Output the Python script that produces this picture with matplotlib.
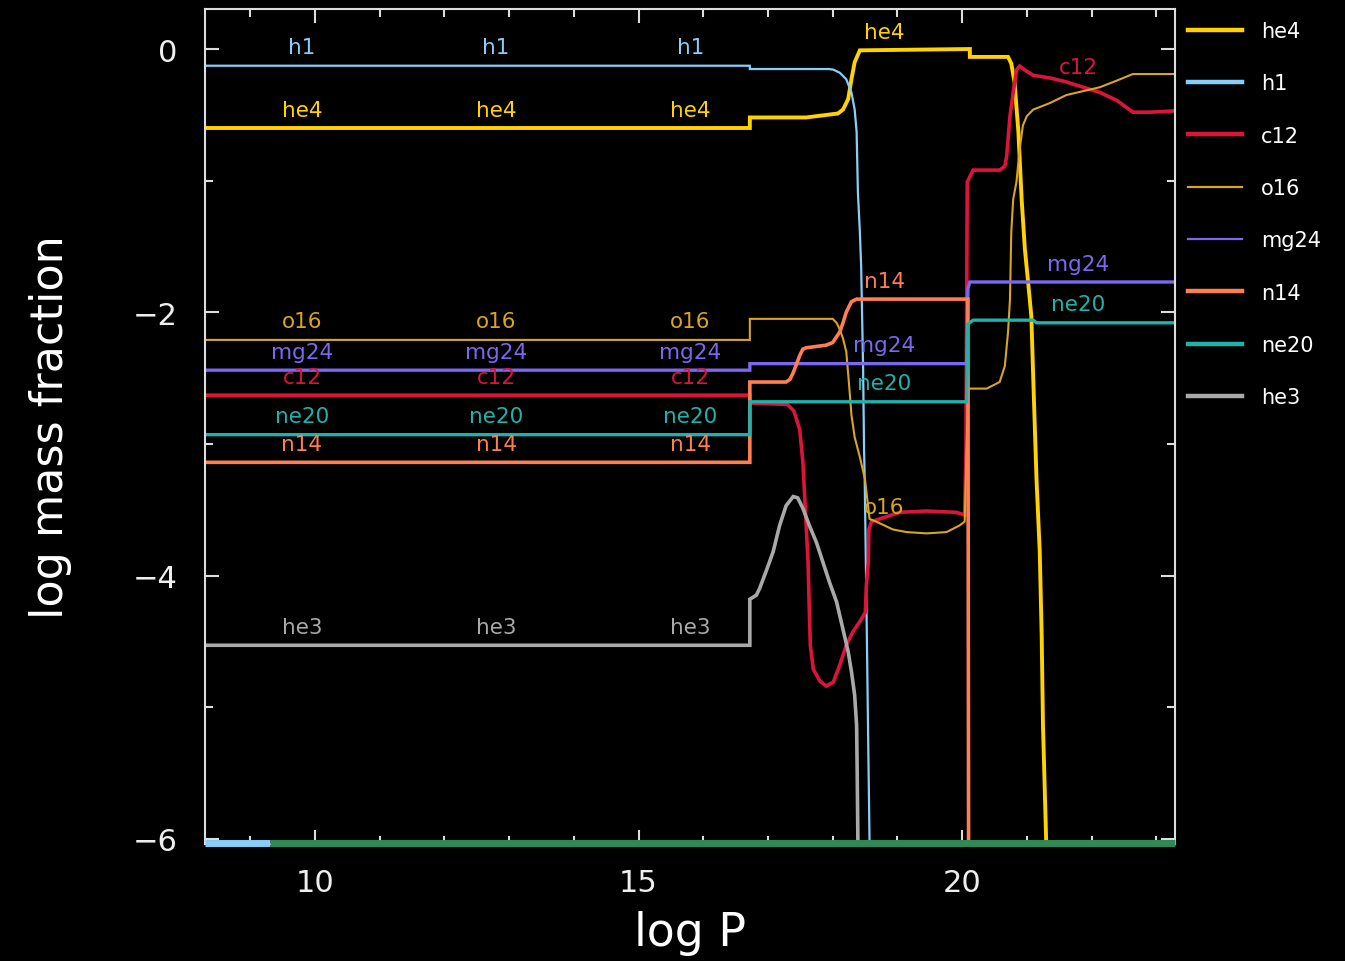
import numpy as np
import matplotlib.pyplot as plt
from matplotlib.ticker import MultipleLocator
from matplotlib.lines import Line2D

# abundance profiles: log mass fraction against log P
# (-6.03 marks values that fall below the plotted range)
he4_x = [8.3, 16.72, 16.72, 17.59, 18.08, 18.16, 18.24, 18.29, 18.34, 18.42, 20.12, 20.12,
         20.71, 20.76, 20.81, 20.87, 20.92, 20.97, 21.02, 21.07, 21.10, 21.15, 21.20, 21.23,
         21.25, 21.30, 23.29]
he4_y = [-0.60, -0.60, -0.52, -0.52, -0.49, -0.46, -0.38, -0.23, -0.10, -0.01, 0.0, -0.06,
         -0.06, -0.11, -0.25, -0.63, -1.14, -1.52, -1.77, -2.03, -2.51, -3.27, -3.82, -4.46,
         -5.14, -6.03, -6.03]

h1_x = [8.3, 16.72, 16.72, 17.95, 18.01, 18.11, 18.21, 18.29, 18.34, 18.37, 18.39, 18.42,
        18.44, 18.47, 18.485, 18.495, 18.52, 18.55, 18.57, 23.29]
h1_y = [-0.127, -0.127, -0.152, -0.152, -0.157, -0.18, -0.23, -0.33, -0.46, -0.63, -1.09,
        -1.39, -1.65, -2.41, -3.04, -3.27, -4.15, -5.29, -6.03, -6.03]

c12_x = [8.3, 16.72, 16.72, 17.30, 17.40, 17.49, 17.54, 17.58, 17.62, 17.64, 17.655, 17.70,
         17.80, 17.90, 18.01, 18.11, 18.21, 18.31, 18.42, 18.505, 18.52, 18.55, 18.56, 18.60,
         19.04, 19.45, 19.91, 20.04, 20.06, 20.08, 20.17, 20.58, 20.66, 20.69, 20.74, 20.79,
         20.84, 20.89, 20.97, 21.10, 21.36, 21.61, 21.87, 22.13, 22.39, 22.64, 22.90, 23.29]
c12_y = [-2.63, -2.63, -2.69, -2.70, -2.75, -2.89, -3.14, -3.52, -3.90, -4.28, -4.53, -4.71,
         -4.80, -4.84, -4.81, -4.68, -4.53, -4.43, -4.35, -4.28, -4.08, -3.90, -3.65, -3.59,
         -3.52, -3.51, -3.52, -3.54, -3.04, -1.01, -0.92, -0.92, -0.89, -0.81, -0.51, -0.33,
         -0.16, -0.13, -0.16, -0.20, -0.22, -0.25, -0.29, -0.33, -0.39, -0.48, -0.48, -0.47]

o16_x = [8.3, 16.72, 16.72, 18.0, 18.06, 18.11, 18.16, 18.21, 18.25, 18.29, 18.34, 18.42,
         18.50, 18.57, 18.67, 18.93, 19.14, 19.45, 19.76, 19.96, 20.04, 20.07, 20.10, 20.38,
         20.58, 20.66, 20.71, 20.74, 20.76, 20.79, 20.84, 20.89, 20.94, 21.0, 21.10, 21.36,
         21.61, 21.87, 22.13, 22.39, 22.64, 23.29]
o16_y = [-2.21, -2.21, -2.05, -2.05, -2.08, -2.13, -2.20, -2.30, -2.53, -2.78, -2.95, -3.10,
         -3.27, -3.57, -3.59, -3.65, -3.67, -3.68, -3.67, -3.62, -3.59, -3.0, -2.58, -2.58,
         -2.53, -2.41, -2.15, -1.90, -1.39, -1.14, -1.01, -0.76, -0.58, -0.51, -0.46, -0.41,
         -0.35, -0.32, -0.29, -0.24, -0.19, -0.19]

mg24_x = [8.3, 16.72, 16.72, 20.07, 20.09, 20.12, 23.29]
mg24_y = [-2.44, -2.44, -2.39, -2.39, -1.82, -1.77, -1.77]

n14_x = [8.3, 16.72, 16.72, 17.28, 17.34, 17.39, 17.49, 17.54, 17.59, 17.90, 18.0, 18.11,
         18.16, 18.21, 18.29, 18.37, 18.42, 20.09, 20.10, 23.29]
n14_y = [-3.14, -3.14, -2.53, -2.53, -2.51, -2.46, -2.33, -2.28, -2.27, -2.25, -2.23, -2.15,
         -2.08, -2.0, -1.92, -1.90, -1.90, -1.90, -6.03, -6.03]

ne20_x = [8.3, 16.72, 16.72, 20.07, 20.09, 20.17, 21.10, 21.15, 23.29]
ne20_y = [-2.93, -2.93, -2.68, -2.68, -2.09, -2.06, -2.06, -2.08, -2.08]

he3_x = [8.3, 16.72, 16.72, 16.82, 16.87, 16.97, 17.08, 17.18, 17.28, 17.39, 17.46, 17.54,
         17.64, 17.75, 17.85, 17.95, 18.06, 18.16, 18.24, 18.29, 18.34, 18.37, 18.38, 18.39,
         23.29]
he3_y = [-4.53, -4.53, -4.18, -4.15, -4.10, -3.97, -3.82, -3.62, -3.47, -3.40, -3.41, -3.49,
         -3.62, -3.75, -3.90, -4.05, -4.20, -4.41, -4.58, -4.73, -4.91, -5.14, -5.54, -6.03,
         -6.03]

# floor of the plot (values below the lower limit)
floor_h1_x = [8.3, 9.3]
floor_x = [9.3, 23.29]
floor_y = -6.03

species = ['he4', 'h1', 'c12', 'o16', 'mg24', 'n14', 'ne20', 'he3']
xs = [he4_x, h1_x, c12_x, o16_x, mg24_x, n14_x, ne20_x, he3_x]
ys = [he4_y, h1_y, c12_y, o16_y, mg24_y, n14_y, ne20_y, he3_y]

# in-line labels every 3 in log P, and which ones each curve gets
label_x = [9.8, 12.8, 15.8, 18.8, 21.8]
label_use = [[0, 1, 2, 3], [0, 1, 2], [0, 1, 2, 4], [0, 1, 2, 3],
             [0, 1, 2, 3, 4], [0, 1, 2, 3], [0, 1, 2, 3, 4], [0, 1, 2]]

colors = ['#FFD200', '#87CEFA', '#DC143C', '#DAA520', '#7B68EE', '#FF7F50', '#20B2AA', '#A9A9A9']
widths = [2.8, 1.6, 2.6, 1.5, 2.4, 2.6, 2.4, 2.6]
leg_widths = [3.2, 3.2, 3.2, 1.6, 1.6, 3.2, 3.2, 3.2]

fig = plt.figure(figsize=(13.45, 9.62), dpi=100, facecolor='black')
ax = fig.add_axes([0.1524, 0.1216, 0.7212, 0.868])
ax.set_facecolor('black')

for i in range(len(species)):
    ax.plot(xs[i], ys[i], color=colors[i], lw=widths[i], solid_joinstyle='miter')
    for j in label_use[i]:
        ly = np.interp(label_x[j], xs[i], ys[i]) + 0.14
        ax.text(label_x[j], ly, species[i], color=colors[i], fontsize=15.5,
                ha='center', va='center')

ax.plot(floor_h1_x, [floor_y, floor_y], color=colors[1], lw=5, clip_on=False,
        solid_capstyle='butt', zorder=3)
ax.plot(floor_x, [floor_y, floor_y], color='#2E8B57', lw=5, clip_on=False,
        solid_capstyle='butt', zorder=3)

ax.set_xlim(8.3, 23.29)
ax.set_ylim(-6.04, 0.304)
ax.xaxis.set_major_locator(MultipleLocator(5))
ax.xaxis.set_minor_locator(MultipleLocator(1))
ax.yaxis.set_major_locator(MultipleLocator(2))
ax.yaxis.set_minor_locator(MultipleLocator(1))

for s in ax.spines.values():
    s.set_color('#DDDDDD')
    s.set_linewidth(1.5)
ax.tick_params(which='both', direction='in', top=True, right=True, colors='#DDDDDD',
               labelcolor='#EEEEEE', labelsize=22, width=1.5)
ax.tick_params(which='major', length=10)
ax.tick_params(which='minor', length=5.5)
ax.tick_params(axis='y', pad=20)
ax.tick_params(axis='x', pad=17)

ax.set_xlabel('log P', fontsize=33, color='white')
ax.set_ylabel('log mass fraction', fontsize=32, color='white')
ax.xaxis.set_label_coords(0.5, -0.079)
ax.yaxis.set_label_coords(-0.137, 0.5)

handles = [Line2D([], [], color=colors[i], lw=leg_widths[i]) for i in range(len(species))]
leg = fig.legend(handles, species, loc='upper left', bbox_to_anchor=(0.8833, 0.977),
                 frameon=False, fontsize=15, borderpad=0, borderaxespad=0,
                 handlelength=2.6, handletextpad=0.9, labelspacing=1.55)
for t in leg.get_texts():
    t.set_color('white')

plt.savefig('out.png', dpi=100, facecolor='black')
